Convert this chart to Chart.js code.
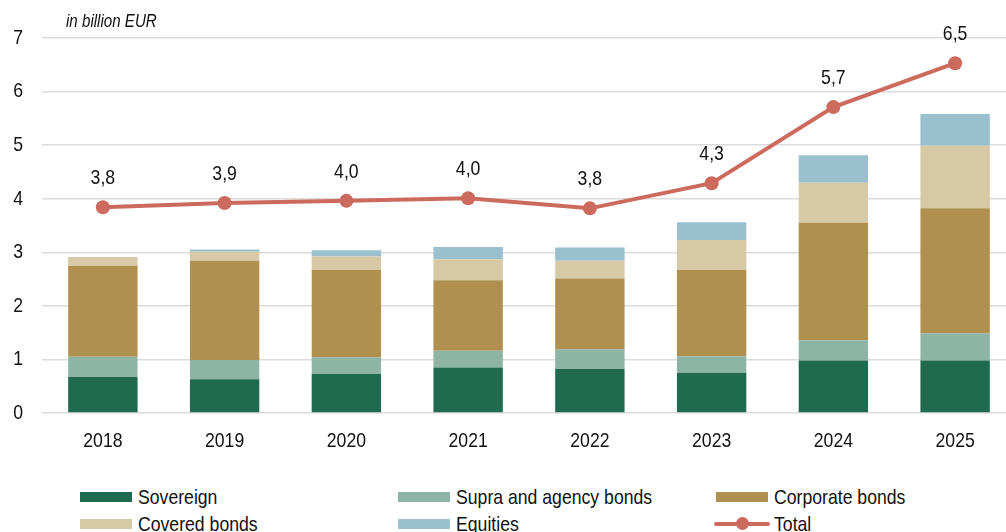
<!DOCTYPE html>
<html>
<head>
<meta charset="utf-8">
<script src="https://cdn.jsdelivr.net/npm/chart.js@4.4.1/dist/chart.umd.min.js"></script>
<style>
  html, body { margin: 0; padding: 0; background: #fff; width: 1006px; height: 532px; overflow: hidden; }
  #chart { position: absolute; left: 0; top: 0; }
  #title { position: absolute; left: 66px; top: 11px; font: italic 18px "Liberation Sans", Arial, sans-serif; color: #111; transform: scaleX(0.84); transform-origin: left center; white-space: nowrap; }
  .item { position: absolute; display: flex; align-items: center; height: 24px; font: 21px "Liberation Sans", Arial, sans-serif; color: #111; white-space: nowrap; }
  .item .txt { display: inline-block; transform: scaleX(0.84); transform-origin: left center; }
  .swatch { width: 52px; height: 10px; margin-right: 6px; position: relative; }
  .swatch.line::before { content: ""; position: absolute; left: -2px; right: -2px; top: 3px; height: 4px; background: var(--c); border-radius: 2px; }
  .swatch.line::after { content: ""; position: absolute; left: 20px; top: -2px; width: 13px; height: 13px; border-radius: 50%; background: var(--c); }
</style>
</head>
<body>
<canvas id="chart" width="1023" height="470"></canvas>
<div id="title">in billion EUR</div>
<div id="legend"></div>
<script>
// ======= Data =======
const years = ["2018", "2019", "2020", "2021", "2022", "2023", "2024", "2025"];
const sovereign = [0.67, 0.63, 0.73, 0.85, 0.82, 0.75, 0.98, 0.98];
const supra = [0.38, 0.36, 0.31, 0.31, 0.37, 0.31, 0.38, 0.51];
const corporate = [1.70, 1.85, 1.63, 1.32, 1.32, 1.61, 2.19, 2.33];
const covered = [0.16, 0.17, 0.25, 0.39, 0.33, 0.56, 0.75, 1.17];
const equities = [0.00, 0.04, 0.12, 0.23, 0.25, 0.33, 0.51, 0.59];
const total = [3.84, 3.92, 3.96, 4.01, 3.82, 4.29, 5.71, 6.53];

const FONT = "'Liberation Sans', Arial, sans-serif";
const TEXT = "#111";
const NARROW = 0.84; // horizontal squeeze, Liberation Sans -> narrow look

const series = [
  { label: "Sovereign", data: sovereign, color: "#206a50" },
  { label: "Supra and agency bonds", data: supra, color: "#8eb4a6" },
  { label: "Corporate bonds", data: corporate, color: "#af904e" },
  { label: "Covered bonds", data: covered, color: "#d8c9a6" },
  { label: "Equities", data: equities, color: "#9abfcf" }
];
const lineColor = "#cd6a5e";

// ======= Canvas text squeeze =======
const canvas = document.getElementById("chart");
const ctx2d = canvas.getContext("2d");
const rawFillText = ctx2d.fillText.bind(ctx2d);
ctx2d.fillText = (text, x, y, maxWidth) => {
  const w = ctx2d.measureText(text).width * NARROW;
  rawFillText(text, x, y, maxWidth === undefined ? w : Math.min(w, maxWidth));
};

// ======= Plugins =======
const totalLabels = {
  id: "totalLabels",
  afterDatasetsDraw(chart) {
    const ctx = chart.ctx;
    const meta = chart.getDatasetMeta(series.length);
    ctx.save();
    ctx.font = "21px " + FONT;
    ctx.fillStyle = TEXT;
    ctx.textAlign = "center";
    ctx.textBaseline = "middle";
    meta.data.forEach((pt, i) => {
      ctx.fillText(total[i].toFixed(1).replace(".", ","), pt.x, pt.y - 29);
    });
    ctx.restore();
  }
};

// ======= Chart =======
const datasets = series.map((s) => ({
  type: "bar",
  label: s.label,
  data: s.data,
  backgroundColor: s.color,
  borderWidth: 0,
  stack: "assets",
  order: 1,
  categoryPercentage: 1,
  barPercentage: 0.57
}));
datasets.push({
  type: "line",
  label: "Total",
  data: total,
  borderColor: lineColor,
  backgroundColor: lineColor,
  borderWidth: 4,
  pointRadius: 7,
  pointBorderWidth: 0,
  pointBackgroundColor: lineColor,
  stack: "total",
  order: 0,
  tension: 0
});

new Chart(canvas, {
  data: { labels: years, datasets },
  options: {
    responsive: false,
    animation: false,
    devicePixelRatio: 1,
    layout: { padding: { top: 38, right: 0, bottom: 0, left: 0 } },
    plugins: { legend: { display: false }, tooltip: { enabled: false } },
    scales: {
      x: {
        stacked: true,
        grid: { display: false },
        border: { display: false },
        ticks: { color: TEXT, font: { family: FONT, size: 21 }, padding: 8 },
        afterFit: (s) => { s.height = 57; }
      },
      y: {
        stacked: true,
        min: 0,
        max: 7,
        grid: { color: "#dcdcdc", lineWidth: 1.5, drawTicks: false },
        border: { display: false },
        ticks: { stepSize: 1, color: TEXT, font: { family: FONT, size: 21 }, padding: 19 },
        afterFit: (s) => { s.width = 42; }
      }
    }
  },
  plugins: [totalLabels]
});

// ======= Legend =======
const legendEl = document.getElementById("legend");
const legendItems = series.map((s) => ({ label: s.label, color: s.color, line: false }));
legendItems.push({ label: "Total", color: lineColor, line: true });
const colX = [80, 398, 716];
const rowY = [485, 512];
legendItems.forEach((it, i) => {
  const div = document.createElement("div");
  div.className = "item";
  div.style.left = colX[i % 3] + "px";
  div.style.top = rowY[Math.floor(i / 3)] + "px";
  const sw = document.createElement("span");
  sw.className = "swatch" + (it.line ? " line" : "");
  if (it.line) sw.style.setProperty("--c", it.color);
  else sw.style.background = it.color;
  const txt = document.createElement("span");
  txt.className = "txt";
  txt.textContent = it.label;
  div.appendChild(sw);
  div.appendChild(txt);
  legendEl.appendChild(div);
});
</script>
</body>
</html>
